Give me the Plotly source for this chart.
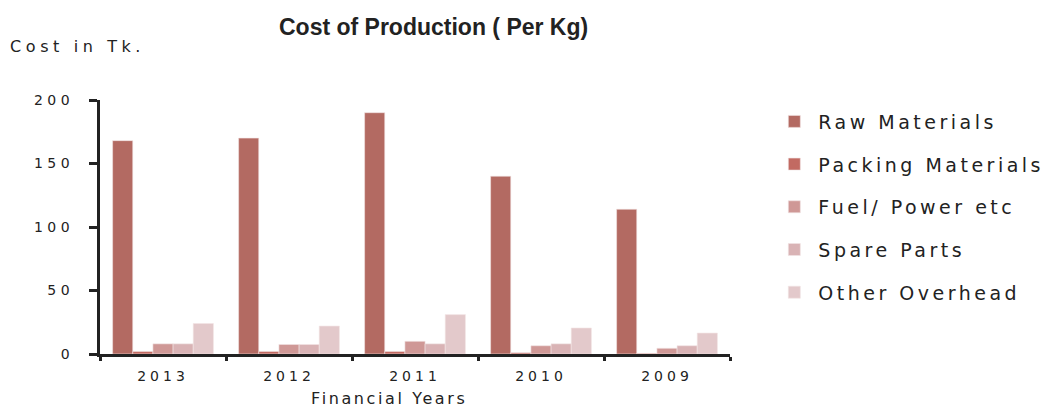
import plotly.graph_objects as go

years = ["2013", "2012", "2011", "2010", "2009"]
raw_materials = [168, 170, 190, 140, 114]
packing_materials = [2, 2, 2, 1, 0.5]
fuel_power = [8, 7.5, 10, 6.5, 4.5]
spare_parts = [8, 7.5, 8, 8, 6.5]
other_overhead = [24, 22, 31, 20.5, 16.5]
y_ticks = [0, 50, 100, 150, 200]

series = [
    ("Raw Materials", raw_materials, "#b36a62"),
    ("Packing Materials", packing_materials, "#c26a62"),
    ("Fuel/ Power etc", fuel_power, "#cf9896"),
    ("Spare Parts", spare_parts, "#d9b3b5"),
    ("Other Overhead", other_overhead, "#e3c9cb"),
]


def spaced(text, px):
    # the original uses a wide, loosely tracked face
    return f"<span style='letter-spacing:{px}px'>{text}</span>"


fig = go.Figure()
for i, (name, vals, color) in enumerate(series):
    fig.add_trace(
        go.Bar(
            x=years,
            y=vals,
            name=spaced(name, 3.5),
            legendgroup=str(i),
            marker=dict(color=color, line=dict(color="#f2e4e4", width=0.6)),
        )
    )

axis_font = dict(family="DejaVu Sans", size=14, color="#222")

fig.update_layout(
    barmode="group",
    bargap=0.2,
    bargroupgap=0,
    plot_bgcolor="white",
    paper_bgcolor="white",
    width=1055,
    height=407,
    margin=dict(l=100, r=325, t=100, b=53, autoexpand=False),
    title=dict(
        text="<b>Cost of Production ( Per Kg)</b>",
        font=dict(family="Liberation Sans", size=23, color="#222"),
        x=0.411,
        xanchor="center",
        y=0.935,
        yanchor="middle",
    ),
    legend=dict(
        x=1.064,
        y=0.99,
        xanchor="left",
        yanchor="top",
        font=dict(family="DejaVu Sans", size=19, color="#222"),
        tracegroupgap=15,
        itemwidth=38,
    ),
    showlegend=True,
    annotations=[
        dict(
            text=spaced("Cost in Tk.", 4.6),
            xref="paper",
            yref="paper",
            x=-0.146,
            y=1.21,
            xanchor="left",
            yanchor="middle",
            showarrow=False,
            font=dict(family="DejaVu Sans", size=16, color="#222"),
        ),
        dict(
            text=spaced("Financial Years", 2.6),
            xref="paper",
            yref="paper",
            x=0.458,
            y=-0.175,
            xanchor="center",
            yanchor="middle",
            showarrow=False,
            font=dict(family="DejaVu Sans", size=16, color="#222"),
        ),
    ],
)

fig.update_xaxes(
    tickvals=years,
    ticktext=[spaced(y, 4) for y in years],
    showline=True,
    linecolor="#222",
    linewidth=3,
    ticks="outside",
    tickson="boundaries",
    ticklen=4,
    tickwidth=3,
    tickcolor="#222",
    tickfont=axis_font,
    ticklabelstandoff=7,
    showgrid=False,
)
fig.update_yaxes(
    range=[0, 200],
    tickvals=y_ticks,
    ticktext=[spaced(v, 4.5) for v in y_ticks],
    showline=True,
    linecolor="#222",
    linewidth=3,
    ticks="outside",
    ticklen=8,
    tickwidth=3,
    tickcolor="#222",
    tickfont=axis_font,
    ticklabelstandoff=12,
    showgrid=False,
    zeroline=False,
)

fig.write_html(
    "out.html",
    config={"displayModeBar": False},
    post_script="document.body.style.margin='0';",
)
